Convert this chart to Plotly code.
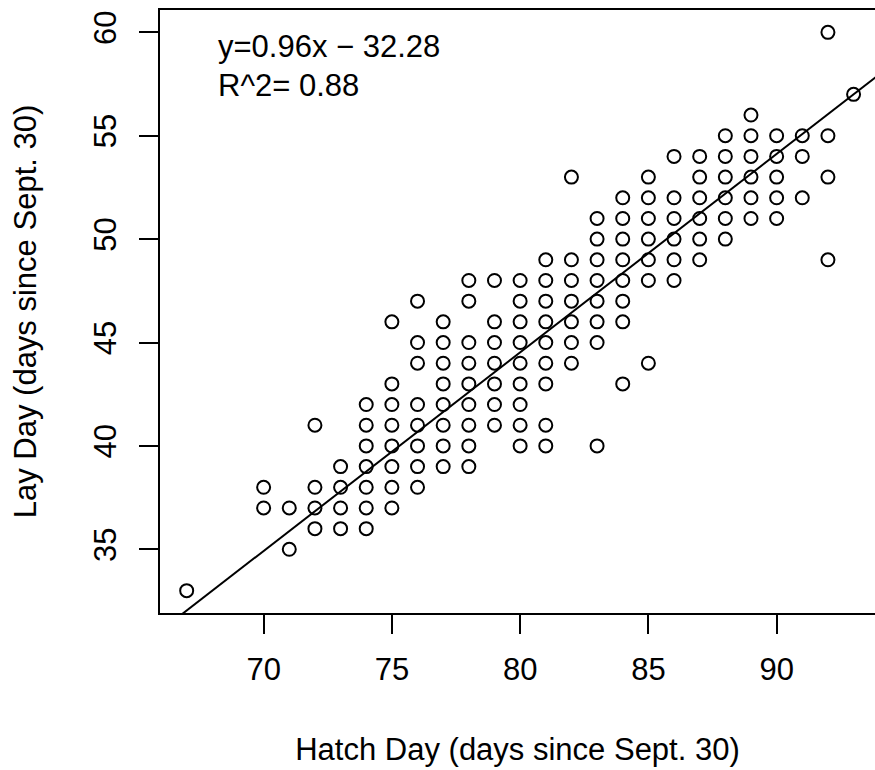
import plotly.graph_objects as go

# ---- data ----
hatch_days = [67, 70, 71, 72, 73, 74, 75, 76, 77, 78, 79, 80, 81, 82, 83, 84,
              85, 86, 87, 88, 89, 90, 91, 92, 93]
lay_days_by_hatch = [
    [33],
    [38, 37],
    [37, 35],
    [41, 38, 37, 36],
    [39, 38, 37, 36],
    [42, 41, 40, 39, 38, 37, 36],
    [46, 43, 42, 41, 40, 39, 38, 37],
    [47, 45, 44, 42, 41, 40, 39, 38],
    [46, 45, 44, 43, 42, 41, 40, 39],
    [48, 47, 45, 44, 43, 42, 41, 40, 39],
    [48, 46, 45, 44, 43, 42, 41],
    [48, 47, 46, 45, 44, 43, 42, 41, 40],
    [49, 48, 47, 46, 45, 44, 43, 41, 40],
    [53, 49, 48, 47, 46, 45, 44],
    [51, 50, 49, 48, 47, 46, 45, 40],
    [52, 51, 50, 49, 48, 47, 46, 43],
    [53, 52, 51, 50, 49, 48, 44],
    [54, 52, 51, 50, 49, 48],
    [54, 53, 52, 51, 50, 49],
    [55, 54, 53, 52, 51, 50],
    [56, 55, 54, 53, 52, 51],
    [55, 54, 53, 52, 51],
    [55, 54, 52],
    [60, 55, 53, 49],
    [57],
]
slope = 0.96
intercept = -32.28
r_squared = 0.88
x_ticks = [70, 75, 80, 85, 90]
y_ticks = [35, 40, 45, 50, 55, 60]

x_title = "Hatch Day (days since Sept. 30)"
y_title = "Lay Day (days since Sept. 30)"

# expand to points
xs, ys = [], []
for h, lays in zip(hatch_days, lay_days_by_hatch):
    for l in lays:
        xs.append(h)
        ys.append(l)

# R-style axis ranges (4% padding)
xmin, xmax = min(xs), max(xs)
ymin, ymax = min(ys), max(ys)
xpad = 0.04 * (xmax - xmin)
ypad = 0.04 * (ymax - ymin)
x_lo, x_hi = xmin - xpad, xmax + xpad
y_lo, y_hi = ymin - ypad, ymax + ypad

W, H = 875, 770
ml, mt, mb = 160, 10, 157
px_per_x = 25.65
plot_w = W - ml
x_hi_vis = x_lo + plot_w / px_per_x

FONT = "Liberation Sans, Arial, Helvetica, sans-serif"
FS = 31

fig = go.Figure()
fig.add_trace(go.Scatter(
    x=xs, y=ys, mode="markers",
    marker=dict(symbol="circle-open", size=13, color="black",
                line=dict(width=2, color="black")),
    showlegend=False, hoverinfo="x+y",
))
line_x = [x_lo, x_hi]
line_y = [slope * v + intercept for v in line_x]
fig.add_trace(go.Scatter(
    x=line_x, y=line_y, mode="lines",
    line=dict(color="black", width=2),
    showlegend=False, hoverinfo="skip",
))

fig.add_annotation(
    x=0.078, y=0.939, xref="paper", yref="paper",
    text=f"y={slope:.2f}x \u2212 {abs(intercept):.2f}",
    showarrow=False, xanchor="left", yanchor="middle",
    font=dict(family=FONT, size=FS, color="black"),
)
fig.add_annotation(
    x=0.078, y=0.8756, xref="paper", yref="paper",
    text=f"R^2= {r_squared:.2f}",
    showarrow=False, xanchor="left", yanchor="middle",
    font=dict(family=FONT, size=FS, color="black"),
)

fig.update_layout(
    width=W, height=H,
    margin=dict(l=ml, r=0, t=mt, b=mb, pad=0),
    paper_bgcolor="white", plot_bgcolor="white",
    font=dict(family=FONT, size=FS, color="black"),
    xaxis=dict(
        range=[x_lo, x_hi_vis], tickvals=x_ticks, ticktext=[str(t) for t in x_ticks],
        showgrid=False, zeroline=False,
        showline=True, mirror=True, linecolor="black", linewidth=2,
        ticks="outside", ticklen=19, tickwidth=2, tickcolor="black",
        ticklabelstandoff=9,
        title=dict(text=x_title, standoff=52, font=dict(size=FS)),
        automargin=False,
    ),
    yaxis=dict(
        range=[y_lo, y_hi], tickvals=y_ticks, ticktext=[str(t) for t in y_ticks],
        showgrid=False, zeroline=False,
        showline=True, mirror=False, linecolor="black", linewidth=2,
        ticks="outside", ticklen=19, tickwidth=2, tickcolor="black",
        tickangle=-90, ticklabelstandoff=11,
        title=dict(text=y_title, standoff=42, font=dict(size=FS)),
        automargin=False,
    ),
)

fig.write_html("out.html", config={"displayModeBar": False},
               post_script="document.body.style.margin='0';")
